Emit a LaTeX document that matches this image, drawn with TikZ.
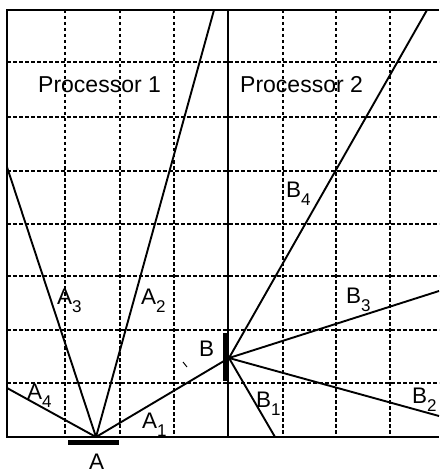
\documentclass[tikz,border=0pt]{standalone}
\usepackage{fontspec}
\setmainfont{Liberation Sans}
\newcommand\sublab[2]{#1\raisebox{-0.36em}{\fontsize{17}{17}\selectfont #2}}
\begin{document}
\begin{tikzpicture}[x=1pt,y=-1pt,
  griddash/.style={line width=1.4pt,dash pattern=on 3.5pt off 2.5pt},
  frame/.style={line width=2pt},
  ray/.style={line width=1.9pt},
  bar/.style={line width=5pt},
  lab/.style={anchor=base west,inner sep=0pt,font=\fontsize{22.5}{22.5}\selectfont},
  title/.style={anchor=base west,inner sep=0pt,font=\fontsize{23}{23}\selectfont}]
\useasboundingbox (0,0) rectangle (439,473);
% grid
\foreach \x in {65,120,174,283,336,390} \draw[griddash] (\x,10) -- (\x,437);
\foreach \y in {62,117,171,224,276,330,383} \draw[griddash] (7,\y) -- (439,\y);
% frame
\draw[frame] (439,10) -- (7,10) -- (7,437) -- (439,437);
\draw[frame] (228,10) -- (228,437);
% points
\coordinate (A) at (96,437);
\coordinate (B) at (229,358);
\coordinate (a2) at (214,10);
\coordinate (a3) at (7,167);
\coordinate (a4) at (7,388);
\coordinate (b1) at (275,437);
\coordinate (b2) at (439,416);
\coordinate (b3) at (439,291);
\coordinate (b4) at (427,10);
\coordinate (abl) at (68,442.5);
\coordinate (abr) at (119,442.5);
\coordinate (bbt) at (225,333);
\coordinate (bbb) at (225,381);
\coordinate (m1) at (183,362);
\coordinate (m2) at (187,367);
% rays
\draw[ray] (A) -- (B);
\draw[ray] (A) -- (a2);
\draw[ray] (A) -- (a3);
\draw[ray] (A) -- (a4);
\draw[ray] (B) -- (b1);
\draw[ray] (B) -- (b2);
\draw[ray] (B) -- (b3);
\draw[ray] (B) -- (b4);
% bars
\draw[bar] (abl) -- (abr);
\draw[bar] (bbt) -- (bbb);
\draw[line width=1pt] (m1) -- (m2);
% labels
\node[title] (p1) at (38,93) {Processor 1};
\node[title] (p2) at (240,93) {Processor 2};
\node[lab] (lB4) at (286,197) {\sublab{B}{4}};
\node[lab] (lA3) at (57,304) {\sublab{A}{3}};
\node[lab] (lA2) at (141,304) {\sublab{A}{2}};
\node[lab] (lA4) at (27,399) {\sublab{A}{4}};
\node[lab] (lA1) at (142,428) {\sublab{A}{1}};
\node[lab] (lB) at (199,356) {B};
\node[lab] (lB3) at (346,303) {\sublab{B}{3}};
\node[lab] (lB1) at (256,407) {\sublab{B}{1}};
\node[lab] (lB2) at (412,403) {\sublab{B}{2}};
\node[lab] (lA) at (89,469.5) {A};
\end{tikzpicture}
\end{document}
